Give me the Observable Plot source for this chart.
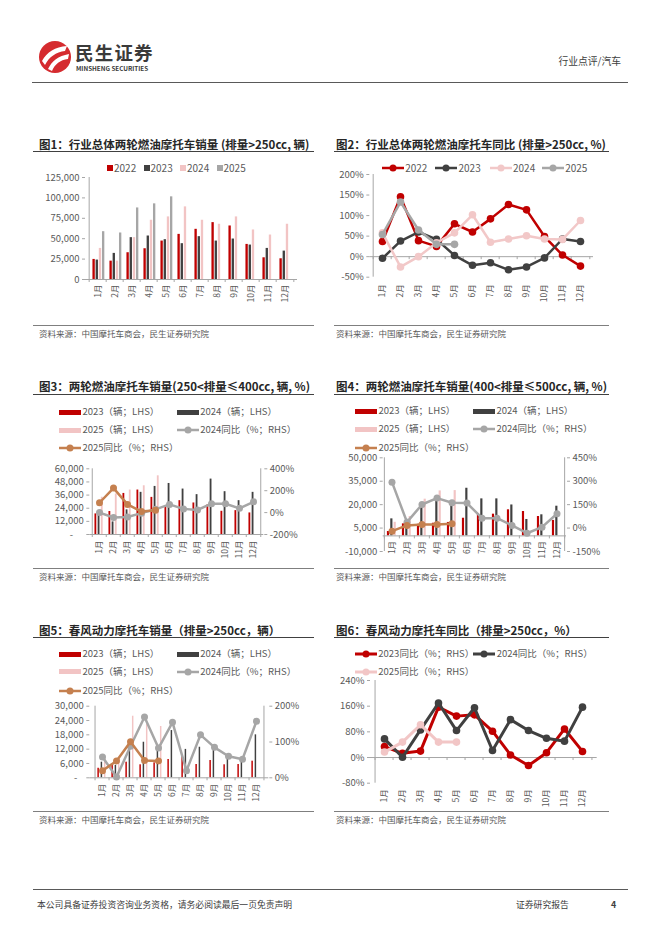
<!DOCTYPE html>
<html><head><meta charset="utf-8">
<script src="https://cdn.jsdelivr.net/npm/d3@7"></script>
<script src="https://cdn.jsdelivr.net/npm/@observablehq/plot@0.6"></script>
<style>
body{margin:0;background:#fff;}
#page{position:relative;width:662px;height:936px;overflow:hidden;font-family:"Noto Sans CJK SC","Noto Sans",sans-serif;color:#595959;background:#fff;}
.abs{position:absolute;white-space:nowrap;}
.title{font-size:11.5px;font-weight:bold;color:#262626;}
.src{font-size:8.5px;color:#595959;}
.lg{font-size:9.5px;color:#595959;}
</style></head><body><div id="page"></div>
<script>
// ---------- data ----------
const months = ["1月","2月","3月","4月","5月","6月","7月","8月","9月","10月","11月","12月"];

// Fig 1: total >250cc sales (units)
const c1_2022 = [24600, 22500, 32800, 37700, 47100, 55300, 61500, 69700, 65600, 43000, 26600, 25400];
const c1_2023 = [23800, 32000, 51300, 53300, 48800, 43900, 52500, 47100, 49600, 42200, 38100, 34800];
const c1_2024 = [38100, 22500, 51300, 72600, 76700, 89000, 72600, 67700, 76700, 60700, 54500, 67700];
const c1_2025 = [58600, 57000, 87700, 92700, 101300];
const c1_ticks = [0, 25000, 50000, 75000, 100000, 125000];

// Fig 2: total >250cc YoY (%)
const c2_2022 = [37, 146, 39, 25, 80, 60, 92, 127, 114, 49, 4, -23];
const c2_2023 = [-4, 38, 60, 42, 3, -21, -15, -32, -25, -3, 43, 37];
const c2_2024 = [58, -25, 0, 34, 58, 102, 35, 43, 51, 43, 42, 88];
const c2_2025 = [54, 133, 65, 30, 30];
const c2_ticks = [-50, 0, 50, 100, 150, 200];

// Fig 3: 250-400cc
const c3_2023 = [18800, 21000, 37500, 40600, 33900, 25700, 30900, 28800, 27000, 21200, 21800, 19700];
const c3_2024 = [18800, 11500, 22500, 38500, 43900, 46600, 41500, 36400, 50600, 39100, 30900, 38500];
const c3_2025 = [34000, 37000, 40600, 44500, 53600];
const c3_yoy2024 = [0, -45, -40, -5, 30, 75, 34, 24, 81, 81, 39, 99];
const c3_yoy2025 = [90, 224, 75, 9, 21];
const c3_lticks = [0, 12000, 24000, 36000, 48000, 60000];
const c3_rticks = [-200, 0, 200, 400];

// Fig 4: 400-500cc
const c4_2023 = [2800, 7700, 7400, 8100, 8600, 11300, 14000, 13900, 16700, 15600, 12400, 9900];
const c4_2024 = [10900, 10600, 18500, 23500, 22500, 30500, 23700, 23700, 19800, 10500, 13500, 19000];
const c4_2025 = [8700, 12400, 23500, 28800, 29000];
const c4_yoy2024 = [294, 38, 151, 192, 162, 160, 63, 63, 17, -33, 6, 92];
const c4_yoy2025 = [-20, 17, 23, 23, 27];
const c4_lticks = [-10000, 5000, 20000, 35000, 50000];
const c4_rticks = [-150, 0, 150, 300, 450];

// Fig 5: CFMOTO >250cc
const c5_2023 = [4000, 5150, 6540, 5450, 6280, 7670, 9760, 5570, 7250, 5450, 5570, 6960];
const c5_2024 = [6540, 5250, 12400, 14900, 11400, 19800, 11900, 12800, 11400, 8400, 8400, 18000];
const c5_2025 = [7800, 7700, 25800, 22300, 21500];
const c5_yoy2024 = [58, 2, 88, 170, 83, 155, 20, 120, 85, 60, 52, 158];
const c5_yoy2025 = [20, 47, 101, 48, 47];
const c5_lticks = [0, 6000, 12000, 18000, 24000, 30000];
const c5_rticks = [0, 100, 200];

// Fig 6: CFMOTO YoY
const c6_2023 = [34, 13, 20, 157, 129, 133, 82, 8, -25, 15, 89, 19];
const c6_2024 = [58, 1, 86, 170, 84, 155, 22, 118, 84, 60, 51, 157];
const c6_2025 = [17, 48, 102, 48, 48];
const c6_ticks = [-80, 0, 80, 160, 240];

// ---------- style ----------
const FONT = '"Noto Sans CJK SC","Noto Sans",sans-serif';
const RED = "#C00000", DARK = "#404040", PINK = "#F2C4C4", GRAY = "#A6A6A6", ORANGE = "#C5804F", AX = "#A6A6A6";
const page = document.getElementById("page");
const comma = d3.format(",");
const fmtNum = d => (d < 0 ? "-" : "") + comma(Math.abs(d));
const fmtPct = d => (d < 0 ? "-" : "") + Math.abs(Math.round(d)) + "%";
const rows = vals => vals.map((v, i) => ({m: months[i], v}));

function text(cls, str, x, yc, size, anchor) {
  const d = document.createElement("div");
  d.className = "abs " + cls;
  d.textContent = str;
  d.style.left = x + "px";
  d.style.top = yc + "px";
  d.style.lineHeight = "1";
  d.style.transform = anchor === "end" ? "translate(-100%,-50%)" : "translateY(-50%)";
  if (size) d.style.fontSize = size + "px";
  page.append(d);
  return d;
}
function hline(x1, x2, y, color, w = 1) {
  const d = document.createElement("div");
  d.style.cssText = `position:absolute;left:${x1}px;top:${y - w / 2}px;width:${x2 - x1}px;height:${w}px;background:${color}`;
  page.append(d);
}
function legRect(x, yc, w, h, color) {
  const d = document.createElement("div");
  d.style.cssText = `position:absolute;left:${x}px;top:${yc - h / 2}px;width:${w}px;height:${h}px;background:${color}`;
  page.append(d);
}
function legLine(x, yc, w, color, lw = 2.5, r = 3.5) {
  const ns = "http://www.w3.org/2000/svg";
  const s = document.createElementNS(ns, "svg");
  s.setAttribute("width", w); s.setAttribute("height", 10);
  s.style.cssText = `position:absolute;left:${x}px;top:${yc - 5}px;overflow:visible`;
  s.innerHTML = `<line x1="0" y1="5" x2="${w}" y2="5" stroke="${color}" stroke-width="${lw}"/><circle cx="${w / 2}" cy="5" r="${r}" fill="${color}"/>`;
  page.append(s);
}
function mount(svg, left, top) {
  svg.style.position = "absolute";
  svg.style.left = left + "px";
  svg.style.top = top + "px";
  page.append(svg);
}
const plotStyle = {fontFamily: FONT, fontSize: "9.5px", color: "#595959", background: "none", overflow: "visible"};

function boundaryTicks(bw, y0, len = 3) {
  return [
    Plot.ruleX(months, {x: d => d, y1: y0, y2: y0, dx: -bw / 2, insetBottom: -len, stroke: AX}),
    Plot.ruleX([months[11]], {x: d => d, y1: y0, y2: y0, dx: bw / 2, insetBottom: -len, stroke: AX})
  ];
}

function comboChart(o) {
  const bw = (o.W - o.mL - o.mR) / 12;
  const marks = [];
  o.bars.forEach((s, i) => marks.push(Plot.barY(rows(s.vals), {
    x: "m", y: "v", fill: s.color,
    insetLeft: bw * (o.centers[i] - o.bwid / 2),
    insetRight: bw * (1 - o.centers[i] - o.bwid / 2)
  })));
  marks.push(Plot.ruleY([0], {stroke: AX}));
  marks.push(Plot.ruleX([months[0]], {x: d => d, dx: -bw / 2, stroke: AX}));
  if (o.rticks) marks.push(Plot.ruleX([months[11]], {x: d => d, dx: bw / 2, stroke: AX}));
  marks.push(...boundaryTicks(bw, 0));
  (o.lines || []).forEach(s => {
    const r = rows(s.vals).map(d => ({m: d.m, y: o.f ? o.f(d.v) : d.v}));
    marks.push(Plot.line(r, {x: "m", y: "y", stroke: s.color, strokeWidth: s.lw || 2.5}));
    marks.push(Plot.dot(r, {x: "m", y: "y", fill: s.color, r: s.r || 3.5}));
  });
  marks.push(Plot.axisY(o.lticks, {anchor: "left", label: null, tickSize: 3, tickPadding: 3, tickFormat: o.lfmt, stroke: AX}));
  if (o.rticks) marks.push(Plot.axisY(o.rticks.map(o.f), {anchor: "right", label: null, tickSize: 3, tickPadding: 3, tickFormat: d => fmtPct(o.finv(d)), stroke: AX}));
  if (o.labelsAtZero) marks.push(Plot.text(months, {x: d => d, y: 0, text: d => d, rotate: -90, textAnchor: "end", dy: 5, fill: "#595959", fontSize: 8.5}));
  else marks.push(Plot.axisX({label: null, tickSize: 0, tickPadding: o.xpad || 5, tickRotate: -90, fontSize: 8.5}));
  const svg = Plot.plot({
    width: o.W, height: o.H, marginLeft: o.mL, marginRight: o.mR, marginTop: o.mT, marginBottom: o.mB,
    style: plotStyle,
    x: {type: "band", domain: months, padding: 0, label: null, axis: o.labelsAtZero ? null : undefined},
    y: {domain: o.ydomain, label: null},
    marks
  });
  mount(svg, o.left, o.top);
}

// ---------- header ----------
{
  const ns = "http://www.w3.org/2000/svg";
  const s = document.createElementNS(ns, "svg");
  s.setAttribute("width", 34); s.setAttribute("height", 34);
  s.style.cssText = "position:absolute;left:38px;top:40px";
  s.innerHTML = `<circle cx="17" cy="17" r="16" fill="#D52B2F"/>
    <path d="M4 21 C9 12 17 7 29 6 L27 11 C18 12 11 17 7 25 Z" fill="#fff"/>
    <path d="M10 29 C14 21 20 16 31 14 L30 19 C22 20 17 24 14 31 Z" fill="#fff"/>`;
  page.append(s);
  const t = text("", "民生证券", 75, 52, 18.5);
  t.style.fontWeight = "bold"; t.style.color = "#3a3a3a"; t.style.letterSpacing = "1.2px";
  const t2 = text("", "MINSHENG SECURITIES", 76, 68.5, 6.3);
  t2.style.fontWeight = "bold"; t2.style.color = "#3a3a3a";
  const t3 = text("", "行业点评/汽车", 621, 62, 9.8, "end");
  t3.style.color = "#404040";
  hline(32, 628, 82, "#595959", 1);
}

// ---------- column frames ----------
function frame(x1, x2, tx, tY, title, uY, sY, sTY) {
  text("title", title, tx, tY);
  hline(x1, x2, uY, "#404040", 1);
  hline(x1, x2, sY, "#7f7f7f", 1);
  text("src", "资料来源：中国摩托车商会，民生证券研究院", tx, sTY);
}
frame(33, 314, 39, 145, "图1：行业总体两轮燃油摩托车销量 (排量>250cc, 辆)", 151.7, 325, 332.7);
frame(334, 609, 336, 145, "图2：行业总体两轮燃油摩托车同比 (排量>250cc, %)", 151, 325, 332.7);
frame(33, 314, 39, 387.3, "图3：两轮燃油摩托车销量(250<排量≤400cc, 辆, %)", 394, 568, 576);
frame(334, 609, 336, 387.3, "图4：两轮燃油摩托车销量(400<排量≤500cc, 辆, %)", 394, 568, 576);
frame(33, 314, 39, 630.7, "图5：春风动力摩托车销量（排量>250cc，辆）", 637.7, 811.7, 819);
frame(334, 609, 336, 630.7, "图6：春风动力摩托车同比（排量>250cc，%）", 637.7, 811.7, 819);

// ---------- Fig 1 ----------
{
  [["2022", RED, 107], ["2023", DARK, 143.5], ["2024", PINK, 180], ["2025", GRAY, 216.5]].forEach(([n, c, x]) => {
    legRect(x, 167.7, 6, 6, c);
    text("lg", n, x + 7, 167.7, 10);
  });
  comboChart({
    left: 33, top: 170, W: 280, H: 135, mL: 52, mR: 16, mT: 7, mB: 26,
    ydomain: [0, 125000], lticks: c1_ticks, lfmt: fmtNum,
    bars: [{vals: c1_2022, color: RED}, {vals: c1_2023, color: DARK}, {vals: c1_2024, color: PINK}, {vals: c1_2025, color: GRAY}],
    centers: [0.28, 0.46, 0.64, 0.82], bwid: 0.17, xpad: 5
  });
}

// ---------- line charts ----------
function lineChart(o) {
  const bw = (o.W - o.mL - o.mR) / 12;
  const marks = [
    Plot.ruleY([0], {stroke: AX}),
    Plot.ruleX([months[0]], {x: d => d, dx: -bw / 2, stroke: AX}),
    ...boundaryTicks(bw, 0)
  ];
  o.lines.forEach(s => {
    const r = rows(s.vals);
    marks.push(Plot.line(r, {x: "m", y: "v", stroke: s.color, strokeWidth: s.lw || 2.5}));
    marks.push(Plot.dot(r, {x: "m", y: "v", fill: s.color, r: s.r || 3.8}));
  });
  marks.push(Plot.axisY(o.ticks, {anchor: "left", label: null, tickSize: 3, tickPadding: 3, tickFormat: fmtPct, stroke: AX}));
  marks.push(Plot.axisX({label: null, tickSize: 0, tickPadding: o.xpad || 6, tickRotate: -90, fontSize: 8.5}));
  const svg = Plot.plot({
    width: o.W, height: o.H, marginLeft: o.mL, marginRight: o.mR, marginTop: o.mT, marginBottom: o.mB,
    style: plotStyle,
    x: {type: "band", domain: months, padding: 0, label: null},
    y: {domain: o.ydomain, label: null},
    marks
  });
  mount(svg, o.left, o.top);
}

// ---------- Fig 2 ----------
{
  [["2022", RED, 381.7], ["2023", DARK, 435], ["2024", "#F2C8C8", 489.5], ["2025", GRAY, 541.7]].forEach(([n, c, x]) => {
    legLine(x, 167.7, 22, c, 2.5, 3.5);
    text("lg", n, x + 23.5, 167.7, 10);
  });
  lineChart({
    left: 333, top: 168, W: 275, H: 137, mL: 36.3, mR: 15, mT: 6, mB: 28.3,
    ydomain: [-50, 200], ticks: c2_ticks, xpad: 7,
    lines: [{vals: c2_2022, color: RED}, {vals: c2_2023, color: DARK}, {vals: c2_2024, color: "#F2C8C8"}, {vals: c2_2025, color: GRAY}]
  });
}

// ---------- combo legends ----------
function comboLegend(x1, x2, y1, y2, y3) {
  legRect(x1, y1, 22, 5, RED); text("lg", "2023（辆；LHS）", x1 + 23.5, y1, 9.5);
  legRect(x2, y1, 22, 5, DARK); text("lg", "2024（辆；LHS）", x2 + 23.5, y1, 9.5);
  legRect(x1, y2, 22, 5, PINK); text("lg", "2025（辆；LHS）", x1 + 23.5, y2, 9.5);
  legLine(x2, y2, 22, GRAY, 2.5, 3.5); text("lg", "2024同比（%；RHS）", x2 + 23.5, y2, 9.5);
  legLine(x1, y3, 22, ORANGE, 2.5, 3.5); text("lg", "2025同比（%；RHS）", x1 + 23.5, y3, 9.5);
}

// ---------- Fig 3 ----------
{
  comboLegend(59, 176.7, 412.3, 430, 448.3);
  comboChart({
    left: 33, top: 462, W: 275, H: 100, mL: 56.3, mR: 44.7, mT: 6.3, mB: 28,
    ydomain: [0, 60000], lticks: c3_lticks, lfmt: d => d === 0 ? "-\u00a0\u00a0\u00a0\u00a0\u00a0" : fmtNum(d),
    rticks: c3_rticks, f: p => (p + 200) * 100, finv: d => d / 100 - 200,
    bars: [{vals: c3_2023, color: RED}, {vals: c3_2024, color: DARK}, {vals: c3_2025, color: PINK}],
    lines: [{vals: c3_yoy2024, color: GRAY}, {vals: c3_yoy2025, color: ORANGE}],
    centers: [0.25, 0.47, 0.69], bwid: 0.16, xpad: 6
  });
}

// ---------- Fig 4 ----------
{
  comboLegend(355, 473, 411, 429, 447.7);
  comboChart({
    left: 333, top: 451, W: 275, H: 112, mL: 49.7, mR: 42, mT: 6.3, mB: 12,
    ydomain: [-10000, 50000], lticks: c4_lticks, lfmt: fmtNum,
    rticks: c4_rticks, f: p => p * 100 + 5000, finv: d => (d - 5000) / 100,
    bars: [{vals: c4_2023, color: RED}, {vals: c4_2024, color: DARK}, {vals: c4_2025, color: PINK}],
    lines: [{vals: c4_yoy2024, color: GRAY}, {vals: c4_yoy2025, color: ORANGE}],
    centers: [0.27, 0.49, 0.71], bwid: 0.16, labelsAtZero: true
  });
}

// ---------- Fig 5 ----------
{
  comboLegend(59, 176.7, 654, 671.7, 691);
  comboChart({
    left: 33, top: 699, W: 275, H: 106, mL: 56.3, mR: 39.7, mT: 6.7, mB: 27.7,
    ydomain: [0, 30000], lticks: c5_lticks, lfmt: d => d === 0 ? "-\u00a0\u00a0\u00a0" : fmtNum(d),
    rticks: c5_rticks, f: p => p * 150, finv: d => d / 150,
    bars: [{vals: c5_2023, color: RED}, {vals: c5_2024, color: DARK}, {vals: c5_2025, color: PINK}],
    lines: [{vals: c5_yoy2024, color: GRAY}, {vals: c5_yoy2025, color: ORANGE}],
    centers: [0.24, 0.46, 0.68], bwid: 0.16, xpad: 6
  });
}

// ---------- Fig 6 ----------
{
  legLine(355, 654, 22, RED, 3, 3.5); text("lg", "2023同比（%；RHS）", 378.3, 654, 9.5);
  legLine(472.7, 654, 22, DARK, 3, 3.5); text("lg", "2024同比（%；RHS）", 496.7, 654, 9.5);
  legLine(355, 672, 22, "#F2C6C6", 3, 3.5); text("lg", "2025同比（%；RHS）", 378.3, 672, 9.5);
  lineChart({
    left: 333, top: 674, W: 275, H: 136, mL: 37, mR: 11.3, mT: 6, mB: 27.3,
    ydomain: [-80, 240], ticks: c6_ticks, xpad: 6,
    lines: [{vals: c6_2023, color: RED, lw: 3}, {vals: c6_2024, color: DARK, lw: 3}, {vals: c6_2025, color: "#F2C6C6", lw: 3}]
  });
}

// ---------- footer ----------
hline(33, 628, 889, "#595959", 1);
text("", "本公司具备证券投资咨询业务资格，请务必阅读最后一页免责声明", 37, 905, 8.8).style.color = "#404040";
text("", "证券研究报告", 516, 905, 8.8).style.color = "#404040";
{ const t = text("", "4", 611, 905, 8.8); t.style.color = "#404040"; t.style.fontWeight = "bold"; }
</script></body></html>
